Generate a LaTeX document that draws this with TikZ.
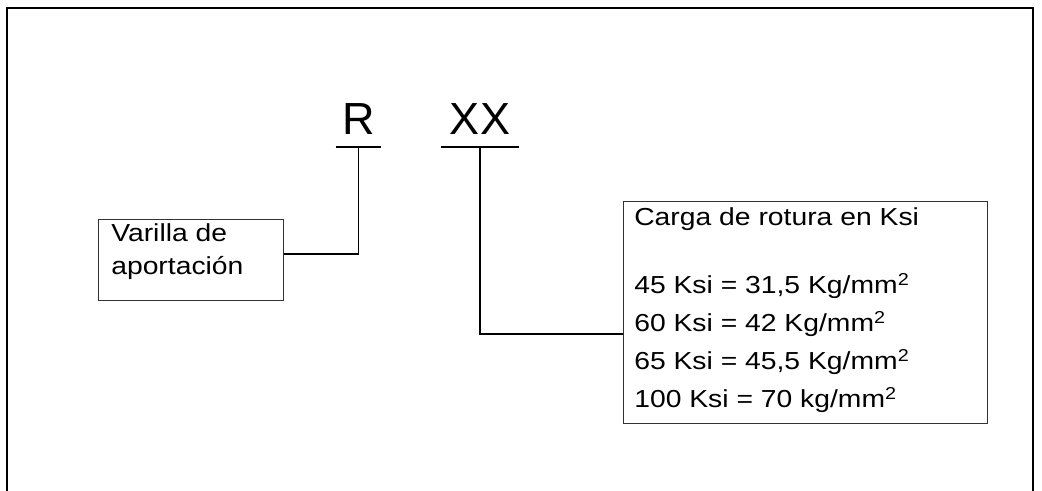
\documentclass[tikz,border=0pt]{standalone}
\usepackage{fontspec}
\setmainfont{Liberation Sans}
\newfontfamily\widesans{Liberation Sans}[FakeStretch=1.15]
\usetikzlibrary{positioning, calc}

\tikzset{
  marca/.style={font=\fontsize{32}{36}\selectfont, inner xsep=0pt,
    inner ysep=0.3cm, text depth=0pt, anchor=base},
  caja/.style={draw=black!80, line width=0.7pt, inner sep=0pt,
    anchor=north west},
  texto/.style={font=\widesans\fontsize{17.5}{20}\selectfont,
    anchor=base west, inner sep=0pt},
  linea/.style={line width=1.4pt},
}

\begin{document}
\begin{tikzpicture}[x=0.025cm, y=-0.025cm]
  \useasboundingbox (0,0) rectangle (1042,491);
  % marco exterior
  \draw[linea] (7,491) -- (7,8) -- (1033,8) -- (1033,491);

  % designacion
  \node[marca, minimum width=1.125cm] (r) at (358.5,135) {R};
  \node[marca, minimum width=1.95cm] (xx) at (480,135) {XX};
  \draw[linea] (r.south west) -- (r.south east);
  \draw[linea] (xx.south west) -- (xx.south east);

  % cajas
  \node[caja, minimum width=4.625cm, minimum height=2.025cm] (varilla) at (98,219) {};
  \node[caja, minimum width=9.1cm, minimum height=5.54cm] (carga) at (623,201.5) {};

  \node[texto] (v1) at (111,241.7) {Varilla de};
  \node[texto] (v2) at (111,275) {aportación};
  \node[texto] (c0) at (634,226) {Carga de rotura en Ksi};
  \foreach \val [count=\i] in {{45 Ksi = 31,5 Kg/mm\textsuperscript{2}},
      {60 Ksi = 42 Kg/mm\textsuperscript{2}},
      {65 Ksi = 45,5 Kg/mm\textsuperscript{2}},
      {100 Ksi = 70 kg/mm\textsuperscript{2}}}
    \node[texto] (c\i) at (634,{256+38*\i}) {\val};

  % conectores
  \draw[linea] (r.south) |- ([yshift=0.16cm]varilla.east);
  \draw[linea] (xx.south) |- ([yshift=-0.52cm]carga.west);
\end{tikzpicture}
\end{document}
